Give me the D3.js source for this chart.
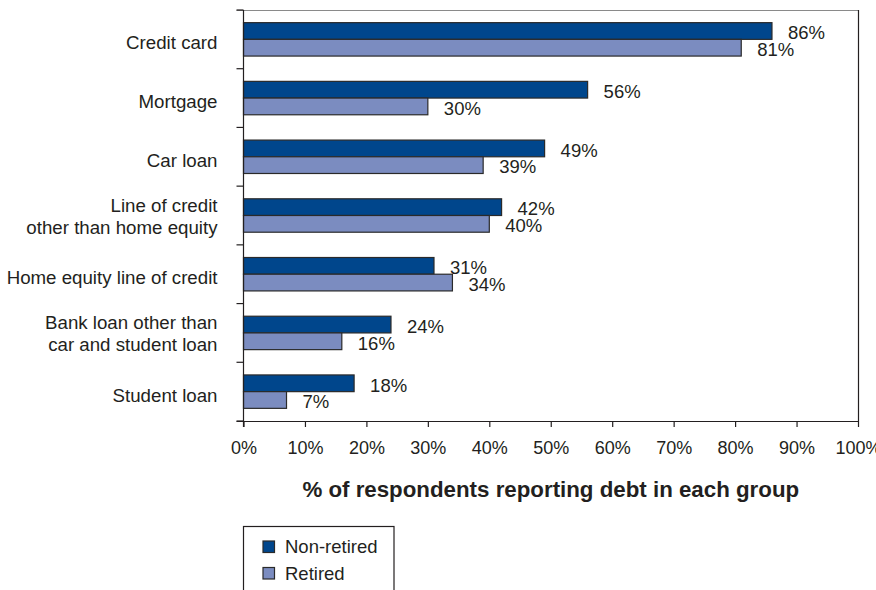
<!DOCTYPE html>
<html>
<head>
<meta charset="utf-8">
<script src="https://cdn.jsdelivr.net/npm/d3@7"></script>
<style>
  html, body { margin: 0; padding: 0; background: #fff; }
  svg { display: block; font-family: Arial, "Liberation Sans", Helvetica, sans-serif; }
</style>
</head>
<body>
<svg id="chart" width="876" height="590"></svg>
<script>
// Debt types (multi-line labels split on "\n")
const categories = [
  "Credit card",
  "Mortgage",
  "Car loan",
  "Line of credit\nother than home equity",
  "Home equity line of credit",
  "Bank loan other than\ncar and student loan",
  "Student loan"
];
const seriesNames = ["Non-retired", "Retired"];
const nonRetired = [86, 56, 49, 42, 31, 24, 18];
const retired    = [81, 30, 39, 40, 34, 16, 7];
const xTicks = [0, 10, 20, 30, 40, 50, 60, 70, 80, 90, 100];
const axisTitle = "% of respondents reporting debt in each group";

const colors = { "Non-retired": "#00468c", "Retired": "#7b8cc0" };
const textColor = "#231f20";

const svg = d3.select("#chart");
const margin = { left: 243.5, right: 18, top: 10, bottom: 169 };
const W = 876, H = 590;
const x0 = margin.left, x1 = W - margin.right;
const y0 = margin.top, y1 = H - margin.bottom;

const x = d3.scaleLinear().domain([0, 100]).range([x0, x1]);
const y = d3.scaleBand().domain(categories).range([y0, y1]).padding(0);
const ySub = d3.scaleBand().domain(seriesNames).range([0, y.bandwidth()])
  .paddingInner(0).paddingOuter(0.757);

const rows = categories.map((c, i) => ({
  cat: c,
  vals: [
    { s: "Non-retired", v: nonRetired[i] },
    { s: "Retired", v: retired[i] }
  ]
}));

// Plot frame: top border (grey) and right border
svg.append("line").attr("x1", x0 - 7).attr("x2", x1).attr("y1", y0 + 0.5).attr("y2", y0 + 0.5)
  .attr("stroke", "#8a8a8a").attr("stroke-width", 1.2);
svg.append("line").attr("x1", x1 + 0.5).attr("x2", x1 + 0.5).attr("y1", y0).attr("y2", y1)
  .attr("stroke", "#231f20").attr("stroke-width", 1.2);

// Bars
const g = svg.append("g");
const groups = g.selectAll("g.cat").data(rows).join("g")
  .attr("class", "cat")
  .attr("transform", d => `translate(0,${y(d.cat)})`);

groups.selectAll("rect").data(d => d.vals).join("rect")
  .attr("x", x(0))
  .attr("y", d => ySub(d.s))
  .attr("width", d => x(d.v) - x(0))
  .attr("height", ySub.bandwidth())
  .attr("fill", d => colors[d.s])
  .attr("stroke", "#2a2a2a")
  .attr("stroke-width", 1.2);

// Value labels
groups.selectAll("text.val").data(d => d.vals).join("text")
  .attr("class", "val")
  .attr("x", d => x(d.v) + 16)
  .attr("y", d => ySub(d.s) + ySub.bandwidth() / 2 + 8.3)
  .attr("font-size", 18.5)
  .attr("fill", textColor)
  .text(d => d.v + "%");

// Left axis: line + ticks at category boundaries
const leftAxis = svg.append("g");
leftAxis.append("line").attr("x1", x0).attr("x2", x0).attr("y1", y0).attr("y2", y1 + 6)
  .attr("stroke", "#231f20").attr("stroke-width", 1.2);
const boundaries = categories.map(c => y(c)).concat([y1]);
leftAxis.selectAll("line.tk").data(boundaries).join("line")
  .attr("class", "tk")
  .attr("x1", x0 - 7).attr("x2", x0)
  .attr("y1", d => d).attr("y2", d => d)
  .attr("stroke", "#231f20").attr("stroke-width", 1.2);

// Category labels
leftAxis.selectAll("text.cat").data(categories).join("text")
  .attr("class", "cat")
  .attr("text-anchor", "end")
  .attr("font-size", 18.7)
  .attr("fill", textColor)
  .each(function (d) {
    const lines = d.split("\n");
    const cy = y(d) + y.bandwidth() / 2;
    const first = cy + 10 - (lines.length - 1) * 14;
    d3.select(this).selectAll("tspan").data(lines).join("tspan")
      .attr("x", x0 - 26)
      .attr("y", (l, i) => first + i * 22)
      .text(l => l);
  });

// Bottom axis
const bottomAxis = svg.append("g").attr("transform", `translate(0,${y1})`)
  .call(d3.axisBottom(x).tickValues(xTicks).tickFormat(d => d + "%").tickSizeInner(6).tickSizeOuter(0).tickPadding(18));
bottomAxis.select(".domain").attr("d", `M${x0 - 7},0.5H${x1 + 0.5}`)
  .attr("stroke", "#231f20").attr("stroke-width", 1.2);
bottomAxis.selectAll(".tick line").attr("stroke", "#231f20").attr("stroke-width", 1.2);
bottomAxis.selectAll(".tick text")
  .attr("font-size", 18)
  .attr("font-family", "Arial, 'Liberation Sans', sans-serif")
  .attr("fill", textColor)
  .attr("dy", null)
  .attr("y", 33);

// Axis title
svg.append("text")
  .attr("x", (x0 + x1) / 2)
  .attr("y", 497)
  .attr("text-anchor", "middle")
  .attr("font-size", 22.3)
  .attr("font-weight", "bold")
  .attr("fill", textColor)
  .text(axisTitle);

// Legend
const legend = svg.append("g");
legend.append("rect")
  .attr("x", 243.5).attr("y", 526.5).attr("width", 150.5).attr("height", 90)
  .attr("fill", "#fff").attr("stroke", "#231f20").attr("stroke-width", 1.2);
const items = legend.selectAll("g.item").data(seriesNames).join("g")
  .attr("class", "item")
  .attr("transform", (d, i) => `translate(263,${541 + i * 26.5})`);
items.append("rect")
  .attr("width", 11.5).attr("height", 11.5)
  .attr("fill", d => colors[d])
  .attr("stroke", "#2a2a2a").attr("stroke-width", 1.2);
items.append("text")
  .attr("x", 22).attr("y", 12.3)
  .attr("font-size", 18.5)
  .attr("fill", textColor)
  .text(d => d);
</script>
</body>
</html>
